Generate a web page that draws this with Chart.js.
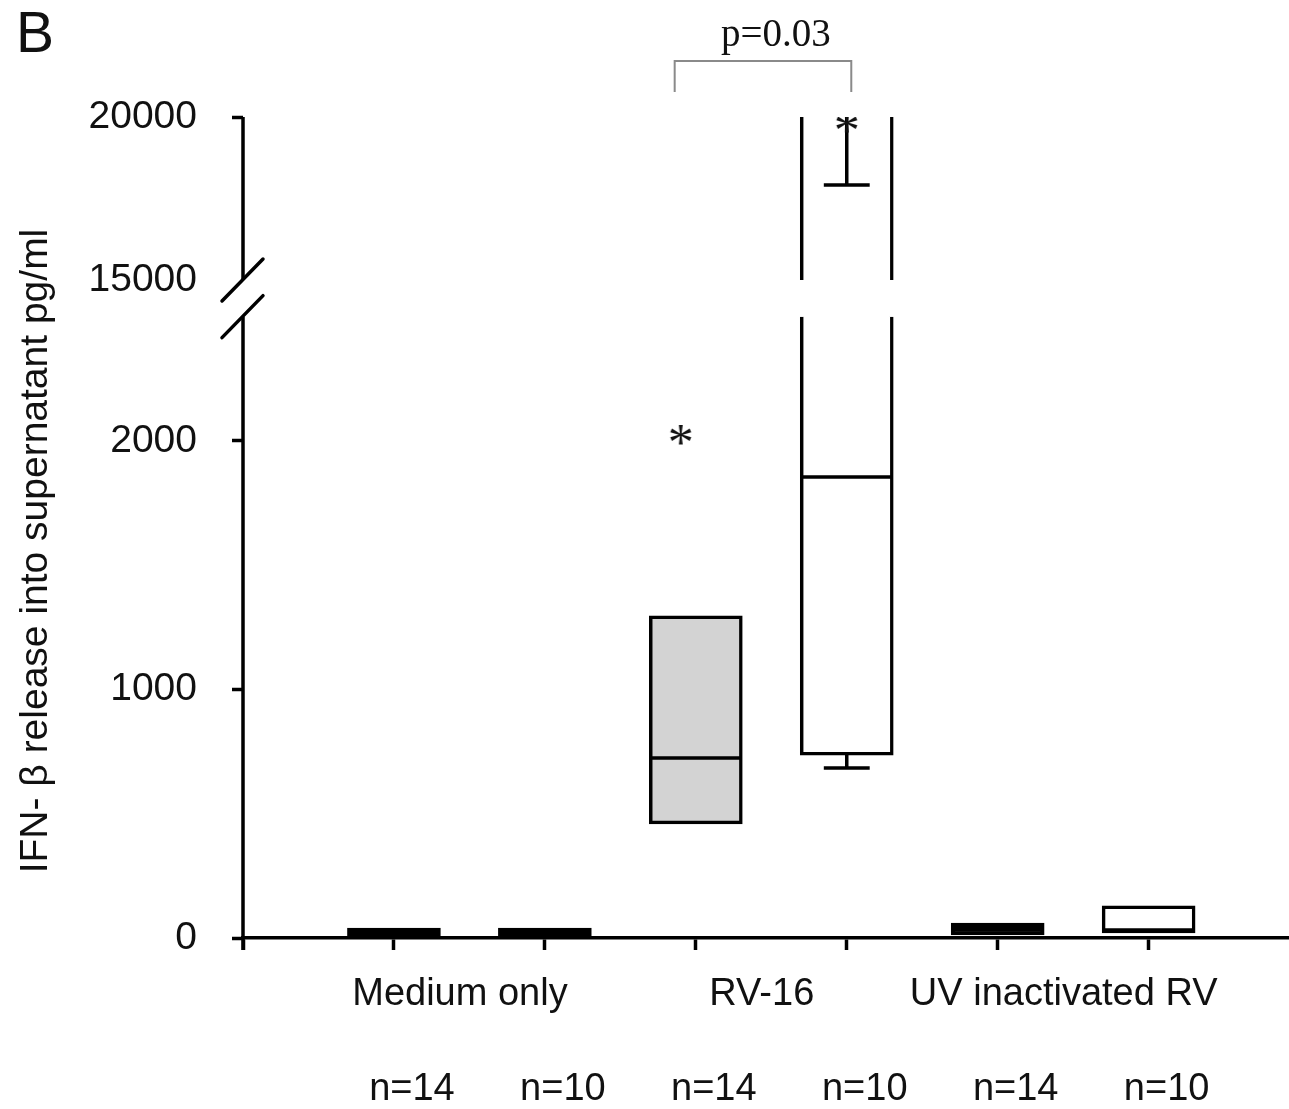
<!DOCTYPE html>
<html>
<head>
<meta charset="utf-8">
<script src="https://cdn.jsdelivr.net/npm/chart.js@4.4.1/dist/chart.umd.min.js"></script>
<style>
html,body{margin:0;padding:0;background:#fff;}
#wrap{width:1289px;height:1109px;}
</style>
</head>
<body>
<div id="wrap"><canvas id="c" width="1289" height="1109"></canvas></div>
<script>
// ---------- data ----------
const groupLabels = ["Medium only", "RV-16", "UV inactivated RV"];
const nLabels = ["n=14", "n=10", "n=14", "n=10", "n=14", "n=10"];
const boxPositions = [0, 1, 2, 3, 4, 5];
const q1Values = [3, 3, 459, 736, 12, 20];
const q3Values = [40, 40, 1296, 21000, 60, 129];
const medianValues = [20, 20, 724, 1855, 35, 32];
const lowerWhiskerValues = [null, null, null, 684, null, null];
const upperCapValues = [null, null, null, 17914, null, null];
const outliersLow = [{x: 1.9, y: 2024}];
const outliersHigh = [{x: 3, y: 19816}];
const boxFills = ["#000000", "#000000", "#d3d3d3", "#ffffff", "#000000", "#ffffff"];
const lowTicks = [0, 1000, 2000];
const highTicks = [15000, 20000];
const xTickValues = [-1, 0, 1, 2, 3, 4, 5];
const pValueText = "p=0.03";
const bracketFrom = 1.86, bracketTo = 3.03, pTextX = 2.53;
const yTitle = "IFN- \u03b2 release into supernatant pg/ml";
const panelLetter = "B";

// axis break settings
const LOW_BREAK = 2500, LOW_MAX = 2571;
const HIGH_BREAK = 15000, HIGH_MIN = 14417, HIGH_MAX = 20000;
const HALF = 0.3, CAP = 0.152;
const LW = 3.5;

// ---------- derived ----------
const lowerBoxData = boxPositions.map((p, i) => ({x: p, y: [q1Values[i], Math.min(q3Values[i], LOW_BREAK)]}));
const lowerBoxBorders = boxPositions.map((p, i) => q3Values[i] > LOW_BREAK ? {top: 0, left: LW, right: LW, bottom: LW} : {top: LW, left: LW, right: LW, bottom: LW});
const upperIdx = boxPositions.map((p, i) => i).filter(i => q3Values[i] > LOW_BREAK);
const upperBoxData = upperIdx.map(i => ({x: boxPositions[i], y: [HIGH_BREAK, Math.min(q3Values[i], HIGH_MAX)]}));
const upperBoxBorders = upperIdx.map(i => ({top: q3Values[i] > HIGH_MAX ? 0 : LW, bottom: 0, left: LW, right: LW}));
const upperBoxFills = upperIdx.map(i => boxFills[i]);

const medianData = [];
boxPositions.forEach((p, i) => {
  if (medianValues[i] == null || medianValues[i] > LOW_BREAK) return;
  medianData.push({x: p - HALF, y: medianValues[i]}, {x: p + HALF, y: medianValues[i]}, {x: p + HALF, y: null});
});
const lowWhiskerData = [];
boxPositions.forEach((p, i) => {
  const w = lowerWhiskerValues[i];
  if (w == null) return;
  lowWhiskerData.push({x: p, y: q1Values[i]}, {x: p, y: w}, {x: p, y: null},
                      {x: p - CAP, y: w}, {x: p + CAP, y: w}, {x: p + CAP, y: null});
});
const highCapData = [];
boxPositions.forEach((p, i) => {
  const w = upperCapValues[i];
  if (w == null) return;
  highCapData.push({x: p, y: Math.min(q3Values[i], HIGH_MAX)}, {x: p, y: w}, {x: p, y: null},
                   {x: p - CAP, y: w}, {x: p + CAP, y: w}, {x: p + CAP, y: null});
});

function makeAsterisk() {
  const c = document.createElement('canvas');
  c.width = 34; c.height = 34;
  const g = c.getContext('2d');
  g.font = '52px "Liberation Serif", "Times New Roman", serif';
  g.textAlign = 'center';
  g.textBaseline = 'alphabetic';
  g.fillStyle = '#111';
  const m = g.measureText('*');
  const base = 17 + (m.actualBoundingBoxAscent - m.actualBoundingBoxDescent) / 2;
  g.fillText('*', 17, base);
  return c;
}
const asterisk = makeAsterisk();

const SANS = '"Liberation Sans", Arial, sans-serif';

const decor = {
  id: 'decor',
  afterDraw(chart) {
    const {ctx, scales} = chart;
    const x = scales.x, y = scales.y, yTop = scales.yTop;
    ctx.save();
    ctx.strokeStyle = '#000';
    ctx.lineWidth = LW;
    const ax = x.getPixelForValue(-1);
    const t1 = yTop.getPixelForValue(HIGH_MAX), t2 = yTop.getPixelForValue(HIGH_BREAK);
    const l1 = y.getPixelForValue(0) + 12, l2 = y.getPixelForValue(LOW_BREAK);
    ctx.beginPath();
    ctx.moveTo(ax, t1); ctx.lineTo(ax, t2);
    ctx.moveTo(ax, l1); ctx.lineTo(ax, l2);
    ctx.stroke();
    ctx.lineCap = 'round';
    ctx.beginPath();
    ctx.moveTo(ax - 21, t2 + 21); ctx.lineTo(ax + 20, t2 - 21);
    ctx.moveTo(ax - 21, l2 + 21); ctx.lineTo(ax + 20, l2 - 21);
    ctx.stroke();

    // significance bracket
    const bx1 = x.getPixelForValue(bracketFrom), bx2 = x.getPixelForValue(bracketTo);
    ctx.lineCap = 'butt';
    ctx.strokeStyle = '#8a8a8a';
    ctx.lineWidth = 2;
    ctx.beginPath();
    ctx.moveTo(bx1, 92); ctx.lineTo(bx1, 61); ctx.lineTo(bx2, 61); ctx.lineTo(bx2, 92);
    ctx.stroke();
    ctx.fillStyle = '#111';
    ctx.font = '39px "Liberation Serif", "Times New Roman", serif';
    ctx.textAlign = 'center';
    ctx.textBaseline = 'alphabetic';
    ctx.fillText(pValueText, x.getPixelForValue(pTextX), 46);

    // panel letter
    ctx.font = '57px ' + SANS;
    ctx.textAlign = 'left';
    ctx.fillText(panelLetter, 16, 52);

    // y title
    ctx.save();
    ctx.translate(36, 551);
    ctx.rotate(-Math.PI / 2);
    ctx.font = '39px ' + SANS;
    ctx.textAlign = 'center';
    ctx.textBaseline = 'middle';
    ctx.fillText(yTitle, 0, 0);
    ctx.restore();
    ctx.restore();
  }
};

const lineBase = {type: 'line', borderColor: '#000', borderWidth: LW, pointRadius: 0, fill: false,
                  tension: 0, spanGaps: false, xAxisID: 'x', order: 1};

new Chart(document.getElementById('c'), {
  type: 'bar',
  data: {
    datasets: [
      {type: 'bar', data: lowerBoxData, xAxisID: 'x', yAxisID: 'y', grouped: false,
       barThickness: 93, backgroundColor: boxFills, borderColor: '#000',
       borderWidth: lowerBoxBorders, borderSkipped: false, order: 2},
      {type: 'bar', data: upperBoxData, xAxisID: 'x', yAxisID: 'yTop', grouped: false,
       barThickness: 93, backgroundColor: upperBoxFills, borderColor: '#000',
       borderWidth: upperBoxBorders, borderSkipped: false, order: 2},
      Object.assign({}, lineBase, {data: medianData, yAxisID: 'y'}),
      Object.assign({}, lineBase, {data: lowWhiskerData, yAxisID: 'y'}),
      Object.assign({}, lineBase, {data: highCapData, yAxisID: 'yTop'}),
      {type: 'line', data: outliersLow, xAxisID: 'x', yAxisID: 'y', showLine: false,
       pointStyle: asterisk, pointRadius: 10, order: 0},
      {type: 'line', data: outliersHigh, xAxisID: 'x', yAxisID: 'yTop', showLine: false,
       pointStyle: asterisk, pointRadius: 10, order: 0}
    ]
  },
  options: {
    responsive: false,
    animation: false,
    layout: {autoPadding: false, padding: {top: 117, right: 0, bottom: 0, left: 0}},
    plugins: {legend: {display: false}, tooltip: {enabled: false}},
    scales: {
      x: {
        type: 'linear', position: 'bottom', min: -1, max: 5.93, weight: 0, offset: false,
        afterBuildTicks: s => { s.ticks = xTickValues.map(v => ({value: v})); },
        afterFit: s => { s.height = 80; },
        ticks: {
          autoSkip: false, maxRotation: 0, minRotation: 0, labelOffset: 66, padding: 22,
          color: '#111', font: {family: SANS, size: 38},
          callback: v => (v >= 0 && v % 2 === 0) ? groupLabels[v / 2] : ''
        },
        grid: {display: true, offset: false, drawOnChartArea: false, drawTicks: true, tickLength: 12, tickWidth: LW, tickColor: '#000'},
        border: {display: true, color: '#000', width: LW}
      },
      x2: {
        type: 'linear', position: 'bottom', min: -1, max: 5.93, weight: 1, offset: false,
        afterBuildTicks: s => { s.ticks = xTickValues.map(v => ({value: v})); },
        afterFit: s => { s.height = 91; },
        ticks: {
          autoSkip: false, maxRotation: 0, minRotation: 0, labelOffset: 18, padding: 49,
          color: '#111', font: {family: SANS, size: 38},
          callback: v => v >= 0 ? nLabels[v] : ''
        },
        grid: {display: false, offset: false, drawTicks: false},
        border: {display: false}
      },
      y: {
        type: 'linear', position: 'left', stack: 'v', stackWeight: 639, weight: 0,
        min: 0, max: LOW_MAX,
        afterBuildTicks: s => { s.ticks = lowTicks.map(v => ({value: v})); },
        afterFit: s => { s.width = 243; },
        ticks: {padding: 35, color: '#111', font: {family: SANS, size: 39}, callback: v => String(v)},
        grid: {display: true, drawOnChartArea: false, drawTicks: true, tickLength: 11, tickWidth: LW, tickColor: '#000'},
        border: {display: false}
      },
      yTop: {
        type: 'linear', position: 'left', stack: 'v', stackWeight: 182, weight: 1,
        min: HIGH_MIN, max: HIGH_MAX,
        afterBuildTicks: s => { s.ticks = highTicks.map(v => ({value: v})); },
        afterFit: s => { s.width = 243; },
        ticks: {padding: 35, color: '#111', font: {family: SANS, size: 39}, callback: v => String(v)},
        grid: {display: true, drawOnChartArea: false, drawTicks: true, tickLength: 11, tickWidth: LW,
               tickColor: c => (c.tick && c.tick.value === HIGH_BREAK) ? 'rgba(0,0,0,0)' : '#000'},
        border: {display: false}
      }
    }
  },
  plugins: [decor]
});
</script>
</body>
</html>
